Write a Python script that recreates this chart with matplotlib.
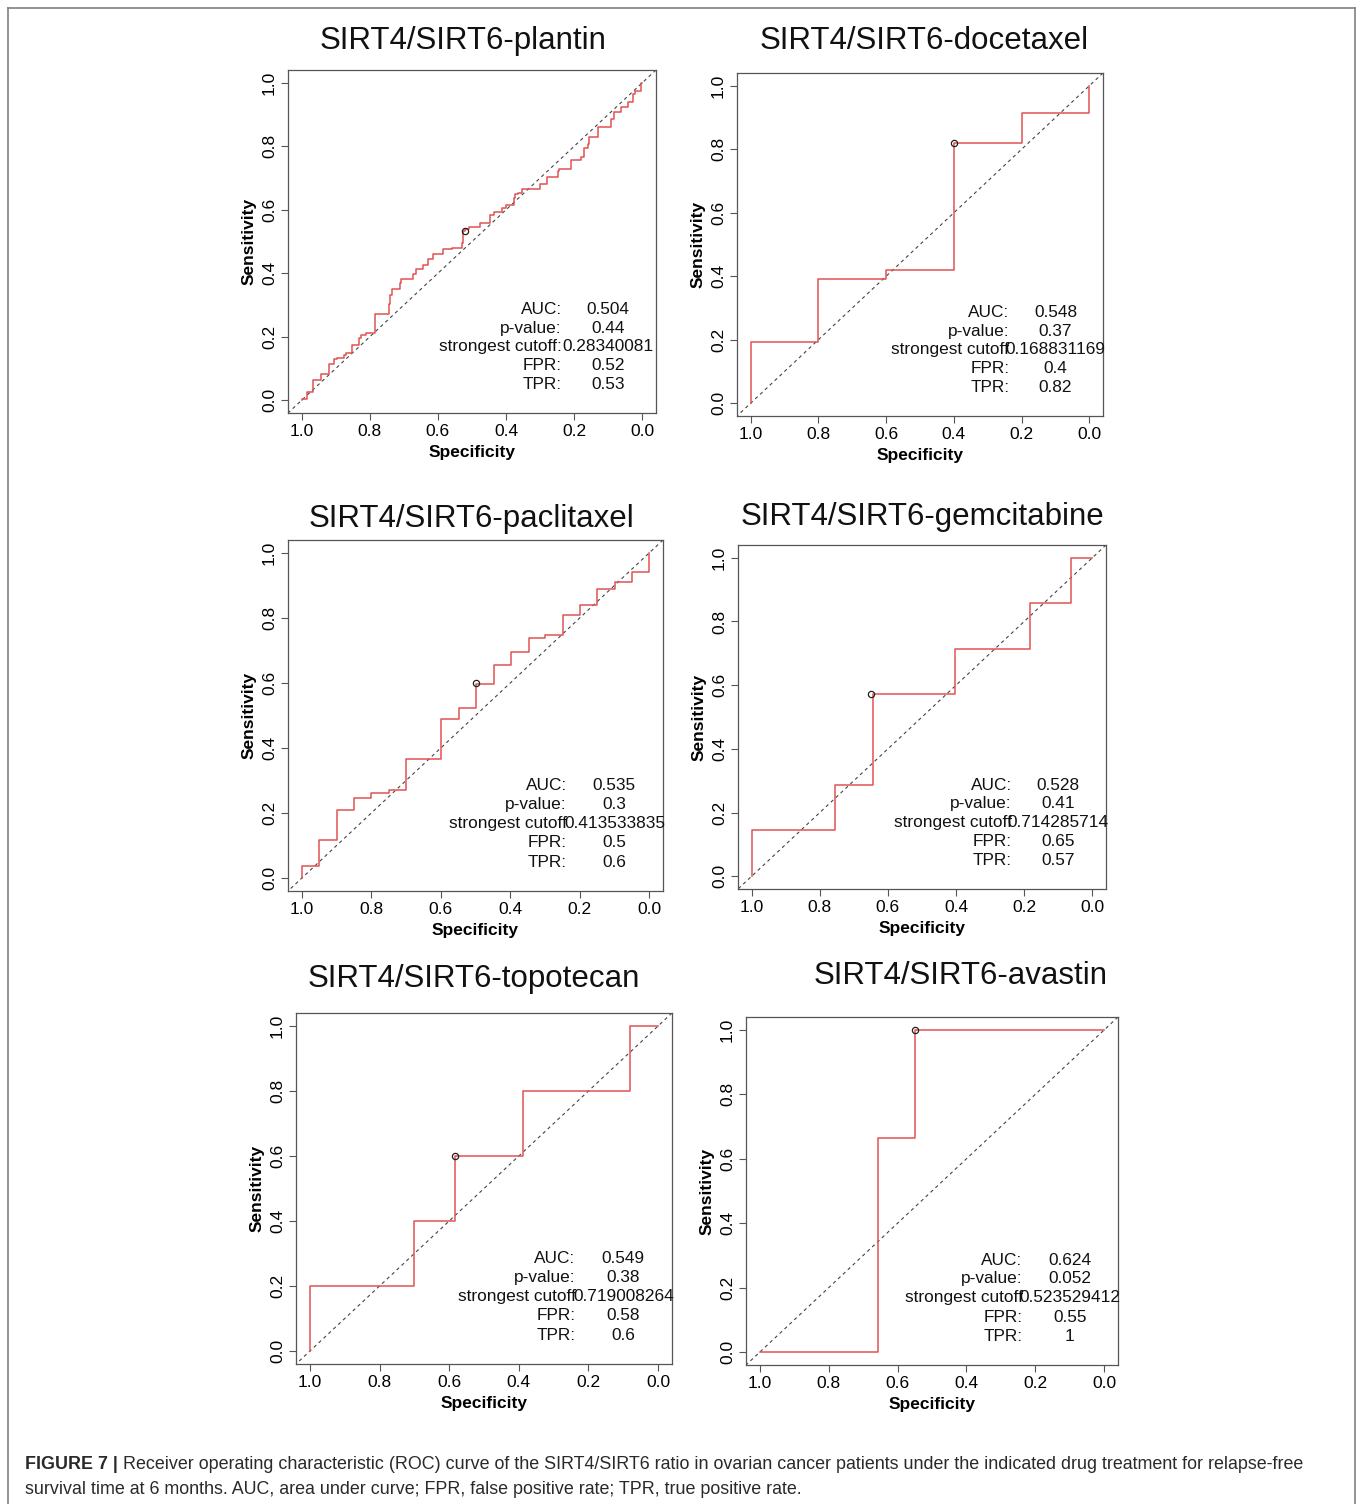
import matplotlib
matplotlib.use('Agg')
import matplotlib.pyplot as plt
from matplotlib.lines import Line2D

plt.rcParams['font.family'] = ['Liberation Sans', 'DejaVu Sans']

W, H = 1358, 1504

# ---- data: (specificity, sensitivity) step vertices ----
drugs = ['plantin', 'docetaxel', 'paclitaxel', 'gemcitabine', 'topotecan', 'avastin']

plantin_spec = [1.000, 0.983, 0.983, 0.968, 0.966, 0.944, 0.919, 0.904, 0.895, 0.875,
                0.870, 0.852, 0.852, 0.831, 0.826, 0.811, 0.786, 0.781, 0.744, 0.742,
                0.734, 0.712, 0.707, 0.673, 0.663, 0.643, 0.629, 0.614, 0.584, 0.560,
                0.530, 0.527, 0.520, 0.510, 0.476, 0.446, 0.436, 0.412, 0.399, 0.377,
                0.375, 0.366, 0.353, 0.299, 0.279, 0.249, 0.244, 0.210, 0.180, 0.170,
                0.161, 0.156, 0.131, 0.092, 0.082, 0.062, 0.042, 0.028, 0.023, 0.003,
                0.000]
plantin_sens = [0.000, 0.003, 0.021, 0.026, 0.056, 0.063, 0.084, 0.115, 0.131, 0.133,
                0.144, 0.150, 0.175, 0.175, 0.196, 0.205, 0.213, 0.273, 0.273, 0.304,
                0.333, 0.352, 0.370, 0.383, 0.399, 0.414, 0.425, 0.446, 0.462, 0.475,
                0.480, 0.495, 0.532, 0.538, 0.546, 0.559, 0.584, 0.593, 0.607, 0.614,
                0.637, 0.651, 0.654, 0.666, 0.682, 0.703, 0.721, 0.729, 0.756, 0.766,
                0.794, 0.808, 0.829, 0.860, 0.887, 0.908, 0.923, 0.939, 0.965, 0.973,
                1.000]

docetaxel_spec = [1.0, 0.8, 0.6, 0.4, 0.2, 0.0, 0.0]
docetaxel_sens = [0.0, 0.194, 0.390, 0.421, 0.819, 0.914, 1.0]

paclitaxel_spec = [1.0, 0.950, 0.900, 0.851, 0.800, 0.749, 0.699, 0.598, 0.548, 0.499, 0.448,
                   0.397, 0.347, 0.299, 0.248, 0.198, 0.149, 0.098, 0.048, 0.0, 0.0]
paclitaxel_sens = [0.0, 0.036, 0.118, 0.208, 0.245, 0.262, 0.272, 0.367, 0.490, 0.522, 0.596,
                   0.655, 0.694, 0.740, 0.747, 0.809, 0.841, 0.889, 0.910, 0.942, 1.0]

gemcitabine_spec = [1.0, 0.754, 0.645, 0.402, 0.183, 0.064, 0.0]
gemcitabine_sens = [0.0, 0.145, 0.288, 0.571, 0.715, 0.859, 1.0]

topotecan_spec = [1.0, 0.700, 0.583, 0.389, 0.081, 0.0]
topotecan_sens = [0.0, 0.2, 0.4, 0.6, 0.8, 1.0]

avastin_spec = [1.0, 0.657, 0.550, 0.0]
avastin_sens = [0.0, 0.0, 0.666, 1.0]

# best threshold points (open circles)
best_spec = [0.520, 0.40, 0.50, 0.65, 0.583, 0.55]
best_sens = [0.532, 0.819, 0.60, 0.571, 0.60, 1.0]

auc = ['0.504', '0.548', '0.535', '0.528', '0.549', '0.624']
pval = ['0.44', '0.37', '0.3', '0.41', '0.38', '0.052']
cutoff = ['0.28340081', '0.168831169', '0.413533835', '0.714285714', '0.719008264', '0.523529412']
fpr = ['0.52', '0.4', '0.5', '0.65', '0.58', '0.55']
tpr = ['0.53', '0.82', '0.6', '0.57', '0.6', '1']

curves = [(plantin_spec, plantin_sens), (docetaxel_spec, docetaxel_sens),
          (paclitaxel_spec, paclitaxel_sens), (gemcitabine_spec, gemcitabine_sens),
          (topotecan_spec, topotecan_sens), (avastin_spec, avastin_sens)]

# ---- layout (pixels: left, top, right, bottom) ----
boxes = [(288, 70, 656, 413), (737, 73, 1103, 416),
         (288, 540, 663, 891), (738, 545, 1106, 889),
         (296, 1013, 672, 1364), (746, 1017, 1118, 1365)]
title_pos = [(463, 49), (924, 49), (472, 527), (922, 525), (474, 987), (961, 984)]

ticks = [1.0, 0.8, 0.6, 0.4, 0.2, 0.0]
edge = '#555555'


def roc_panel(fig, i):
    r'''
Draw one pROC-like panel
------------------------
fig : figure
i (int) : panel index
    '''
    l, t, r, b = boxes[i]
    ax = fig.add_axes([l / W, 1 - b / H, (r - l) / W, (b - t) / H])
    spec, sens = curves[i]

    ax.axline((1, 0), (0, 1), ls=(0, (3, 3)), color='#444444', lw=0.8)
    ax.step(spec, sens, where='pre', color='#e05252', lw=1.1)
    ax.plot(best_spec[i], best_sens[i], 'o', mfc='none', mec='#222222', ms=4.5, mew=0.9)

    ax.set_xlim(1.04, -0.04)
    ax.set_ylim(-0.04, 1.04)
    ax.set_xticks(ticks)
    ax.set_xticklabels([f'{v:.1f}' for v in ticks], fontsize=12.5)
    ax.set_yticks(ticks)
    ax.set_yticklabels([f'{v:.1f}' for v in ticks], fontsize=12.5, rotation=90, va='center')
    ax.tick_params(direction='out', length=5, width=0.8, color=edge, pad=3)
    for s in ax.spines.values():
        s.set_color(edge)
        s.set_linewidth(0.9)
    ax.set_xlabel('Specificity', fontweight='bold', fontsize=12.5, labelpad=4)
    ax.set_ylabel('Sensitivity', fontweight='bold', fontsize=12.5, labelpad=4)

    cut_lab = 'strongest cutoff:' if len(cutoff[i]) < 11 else 'strongest cutoff'
    labels = ['AUC:', 'p-value:', cut_lab, 'FPR:', 'TPR:']
    values = [auc[i], pval[i], cutoff[i], fpr[i], tpr[i]]
    rows = [0.285, 0.227, 0.168, 0.108, 0.049]
    for lab, val, y in zip(labels, values, rows):
        ax.text(0.237, y, lab, ha='right', va='center', fontsize=12.4, color='#111111')
        ax.text(0.10, y, val, ha='center', va='center', fontsize=12.4, color='#111111')

    tx, ty = title_pos[i]
    fig.text(tx / W, 1 - ty / H, f'SIRT4/SIRT6-{drugs[i]}', ha='center', va='baseline',
             fontsize=22.5, color='#111111')
    return ax


fig = plt.figure(figsize=(W / 100, H / 100), dpi=100)
for i in range(6):
    roc_panel(fig, i)

# outer frame (no bottom edge visible)
fc = '#808080'
fig.add_artist(Line2D([8 / W, 8 / W], [0, 1 - 8 / H], color=fc, lw=1.2))
fig.add_artist(Line2D([1355 / W, 1355 / W], [0, 1 - 8 / H], color=fc, lw=1.2))
fig.add_artist(Line2D([8 / W, 1355 / W], [1 - 8 / H, 1 - 8 / H], color=fc, lw=1.2))

# caption
cap_col = '#2a2a2a'
cap_size = 12.9
renderer = fig.canvas.get_renderer()
t0 = fig.text(25 / W, 1 - 1469 / H, 'FIGURE 7 |', fontsize=cap_size, fontweight='bold',
              color=cap_col, va='baseline')
x1 = t0.get_window_extent(renderer=renderer).x1
fig.text(x1 / W, 1 - 1469 / H,
         ' Receiver operating characteristic (ROC) curve of the SIRT4/SIRT6 ratio in ovarian '
         'cancer patients under the indicated drug treatment for relapse-free',
         fontsize=cap_size, color=cap_col, va='baseline')
fig.text(25 / W, 1 - 1494 / H,
         'survival time at 6 months. AUC, area under curve; FPR, false positive rate; '
         'TPR, true positive rate.',
         fontsize=cap_size, color=cap_col, va='baseline')

fig.savefig('out.png', dpi=100)
